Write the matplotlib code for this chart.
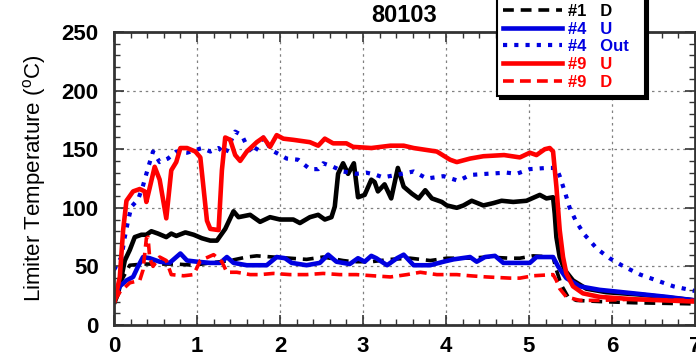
import matplotlib

matplotlib.use("Agg")

import matplotlib.pyplot as plt  # noqa: E402
from matplotlib.ticker import MultipleLocator  # noqa: E402

BLACK = "#000000"
BLUE = "#0000e0"
RED = "#ff0000"
GRID = "#808080"

# Shot 80103 limiter thermocouples: time (s) vs temperature (deg C)
t1u = [0.01, 0.05, 0.13, 0.19, 0.25, 0.33, 0.39, 0.45, 0.53, 0.63, 0.69, 0.75, 0.86, 0.96,
       1.06, 1.16, 1.24, 1.34, 1.44, 1.50, 1.64, 1.76, 1.88, 2.00, 2.16, 2.24, 2.36, 2.46,
       2.54, 2.62, 2.66, 2.70, 2.76, 2.82, 2.89, 2.94, 3.02, 3.10, 3.14, 3.18, 3.26, 3.34,
       3.42, 3.49, 3.59, 3.67, 3.75, 3.83, 3.95, 4.01, 4.13, 4.21, 4.31, 4.45, 4.57, 4.67,
       4.81, 4.97, 5.13, 5.21, 5.29, 5.31, 5.33, 5.37, 5.43, 5.53, 5.69, 5.93, 6.33, 7.00]
T1u = [20, 27, 55, 64, 75, 77, 77, 80, 78, 75, 78, 76, 79, 77,
       74, 72, 72, 82, 97, 92, 94, 88, 92, 90, 90, 87, 92, 94,
       90, 92, 101, 129, 138, 129, 138, 109, 111, 124, 122, 114, 120, 108,
       134, 118, 112, 108, 115, 108, 105, 102, 100, 102, 106, 102, 104, 106,
       105, 106, 111, 108, 109, 95, 75, 58, 47, 38, 31, 28, 26, 21]

t1d = [0.01, 0.09, 0.19, 0.35, 0.55, 0.75, 0.96, 1.16, 1.40, 1.60, 1.72, 2.12, 2.32, 2.52,
       2.76, 2.88, 3.10, 3.33, 3.57, 3.81, 4.01, 4.29, 4.49, 4.77, 4.89, 5.05, 5.29, 5.33,
       5.39, 5.47, 5.57, 5.85, 6.26, 7.00]
T1d = [21, 38, 51, 52, 52, 52, 51, 53, 55, 58, 59, 57, 56, 58,
       55, 54, 54, 56, 57, 55, 57, 57, 58, 57, 57, 59, 58, 47,
       34, 24, 21, 20, 19, 18]

t4u = [0.01, 0.07, 0.15, 0.23, 0.29, 0.35, 0.43, 0.55, 0.67, 0.80, 0.88, 1.00, 1.16, 1.28,
       1.36, 1.44, 1.60, 1.68, 1.84, 1.96, 2.06, 2.14, 2.32, 2.48, 2.58, 2.68, 2.84, 2.94,
       3.02, 3.10, 3.16, 3.29, 3.41, 3.49, 3.61, 3.81, 3.97, 4.09, 4.29, 4.37, 4.47, 4.59,
       4.69, 4.73, 5.01, 5.09, 5.29, 5.35, 5.45, 5.61, 5.85, 6.26, 6.66, 7.00]
T4u = [24, 33, 38, 41, 50, 58, 57, 54, 53, 61, 55, 54, 53, 53,
       58, 53, 51, 51, 51, 58, 57, 53, 51, 53, 60, 54, 52, 57,
       54, 59, 57, 51, 57, 60, 51, 51, 54, 56, 58, 54, 58, 59,
       53, 53, 53, 58, 58, 50, 40, 33, 30, 27, 24, 21]

t4out = [0.00, 0.09, 0.13, 0.17, 0.21, 0.29, 0.35, 0.41, 0.47, 0.55, 0.65, 0.75, 0.88, 1.06,
         1.16, 1.26, 1.34, 1.46, 1.54, 1.60, 1.68, 1.80, 1.90, 1.98, 2.08, 2.22, 2.36, 2.46,
         2.52, 2.64, 2.76, 2.92, 3.04, 3.16, 3.24, 3.40, 3.61, 3.77, 3.97, 4.15, 4.29, 4.49,
         4.73, 4.85, 5.01, 5.21, 5.33, 5.37, 5.43, 5.49, 5.57, 5.67, 5.82, 5.97, 6.14, 6.34,
         6.54, 6.74, 7.00]
T4out = [47, 58, 75, 89, 101, 107, 119, 134, 148, 139, 142, 148, 147, 151,
         148, 151, 146, 165, 162, 153, 146, 160, 149, 146, 142, 141, 133, 133,
         138, 135, 131, 129, 130, 128, 126, 128, 131, 125, 127, 123, 128, 129,
         130, 129, 133, 134, 134, 127, 114, 100, 88, 77, 65, 57, 50, 43,
         38, 33, 29]

t9u = [0.01, 0.07, 0.11, 0.15, 0.23, 0.31, 0.37, 0.39, 0.49, 0.55, 0.63, 0.69, 0.75, 0.80,
       0.88, 0.98, 1.04, 1.12, 1.16, 1.26, 1.30, 1.34, 1.40, 1.46, 1.52, 1.60, 1.72, 1.80,
       1.88, 1.96, 2.04, 2.16, 2.36, 2.46, 2.54, 2.64, 2.80, 2.88, 3.10, 3.33, 3.49, 3.61,
       3.89, 4.05, 4.13, 4.29, 4.45, 4.70, 4.89, 5.01, 5.09, 5.19, 5.25, 5.29, 5.33, 5.37,
       5.41, 5.45, 5.53, 5.65, 5.85, 6.26, 7.00]
T9u = [21, 41, 81, 106, 114, 116, 114, 105, 135, 124, 91, 132, 139, 151,
       151, 148, 143, 89, 82, 81, 132, 160, 158, 145, 140, 148, 156, 160,
       152, 162, 159, 158, 156, 153, 159, 155, 155, 152, 151, 153, 153, 151,
       148, 141, 139, 142, 144, 145, 143, 147, 145, 150, 151, 148, 118, 81,
       58, 44, 33, 27, 24, 22, 20]

t9d = [0.01, 0.07, 0.19, 0.31, 0.35, 0.39, 0.41, 0.43, 0.47, 0.55, 0.63, 0.69, 0.84, 0.96,
       1.04, 1.20, 1.30, 1.36, 1.48, 1.64, 1.76, 1.92, 2.12, 2.32, 2.52, 2.72, 2.92, 3.12,
       3.33, 3.53, 3.69, 3.89, 4.13, 4.29, 4.49, 4.77, 4.89, 5.05, 5.29, 5.33, 5.37, 5.45,
       5.61, 5.85, 6.26, 7.00]
T9d = [21, 28, 36, 38, 47, 74, 75, 57, 50, 58, 55, 43, 42, 43,
       55, 60, 54, 45, 45, 43, 43, 44, 43, 43, 44, 43, 43, 42,
       41, 43, 45, 43, 43, 42, 41, 40, 40, 42, 43, 38, 31, 24,
       21, 21, 22, 21]

plt.rcParams.update(
    {
        "font.family": ["Liberation Sans", "DejaVu Sans"],
        "font.size": 14,
        "axes.edgecolor": "#333333",
        "axes.linewidth": 2.0,
        "xtick.direction": "in",
        "ytick.direction": "in",
        "xtick.top": True,
        "ytick.right": True,
        "figure.facecolor": "white",
        "axes.facecolor": "white",
    }
)

fig = plt.figure(figsize=(6.96, 3.6), dpi=100)
ax = fig.add_axes([114 / 696, 35 / 360, 581 / 696, 293 / 360])

lw = 3.3
ax.plot(t1u, T1u, color=BLACK, lw=lw, solid_joinstyle="round")
ax.plot(t1d, T1d, color=BLACK, lw=2.6, ls=(0, (3.0, 1.9)), label="#1   D")
ax.plot(t4u, T4u, color=BLUE, lw=lw, solid_joinstyle="round", label="#4   U")
ax.plot(t4out, T4out, color=BLUE, lw=3.0, ls=(0, (1.0, 1.7)), label="#4   Out  ")
ax.plot(t9u, T9u, color=RED, lw=lw, solid_joinstyle="round", label="#9   U")
ax.plot(t9d, T9d, color=RED, lw=2.6, ls=(0, (3.0, 1.7)), label="#9   D")

ax.set_xlim(0, 7)
ax.set_ylim(0, 250)
ax.xaxis.set_major_locator(MultipleLocator(1))
ax.xaxis.set_minor_locator(MultipleLocator(0.2))
ax.yaxis.set_major_locator(MultipleLocator(50))
ax.yaxis.set_minor_locator(MultipleLocator(10))
ax.tick_params(which="major", length=7, width=1.2, color="#333333")
ax.tick_params(which="minor", length=4, width=1.0, color="#333333")
ax.tick_params(axis="y", which="major", pad=11)
ax.tick_params(axis="x", which="major", pad=8)
ax.grid(True, which="major", color=GRID, lw=0.9, ls=(0, (2, 3)))
ax.set_axisbelow(True)

for lab in ax.get_xticklabels() + ax.get_yticklabels():
    lab.set_fontweight("bold")
    lab.set_fontsize(16)

ax.set_ylabel("Limiter Temperature ($\\mathregular{^o}$C)", fontsize=16, labelpad=10)

fig.text((114 + 695) / 2 / 696, 1 - 15 / 360, "80103", ha="center", va="center",
         fontsize=17, fontweight="bold")

leg = ax.legend(
    loc="lower left",
    bbox_to_anchor=(497 / 696, 1 - 96 / 360),
    bbox_transform=fig.transFigure,
    borderaxespad=0,
    frameon=True,
    fancybox=False,
    shadow={"color": "black", "alpha": 1.0},
    edgecolor="black",
    handlelength=3.5,
    handletextpad=0.4,
    labelspacing=0.16,
    borderpad=0.38,
    prop={"weight": "bold", "size": 12},
)
leg.get_frame().set_linewidth(1.5)
for txt, line in zip(leg.get_texts(), leg.get_lines()):
    txt.set_color(line.get_color())

fig.savefig("out.png", dpi=100)
